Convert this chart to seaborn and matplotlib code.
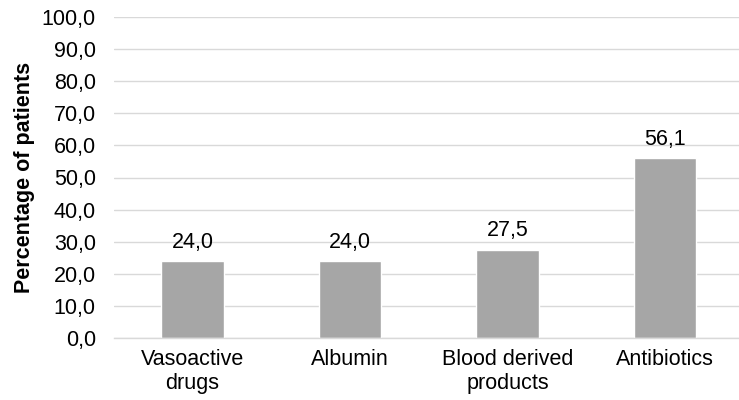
import matplotlib
matplotlib.use("Agg")
import matplotlib.pyplot as plt
import seaborn as sns
import pandas as pd
from matplotlib.ticker import FuncFormatter, MultipleLocator

categories = ["Vasoactive\ndrugs", "Albumin", "Blood derived\nproducts", "Antibiotics"]
percentages = [24.0, 24.0, 27.5, 56.1]

df = pd.DataFrame({"category": categories, "pct": percentages})

sns.set_theme(style="white")
plt.rcParams["font.family"] = ["Liberation Sans", "DejaVu Sans"]

fig = plt.figure(figsize=(7.39, 4.0), dpi=100)
ax = fig.add_axes([0.154, 0.155, 0.846, 0.8025])

sns.barplot(data=df, x="category", y="pct", color="#a6a6a6", saturation=1,
            width=0.395, ax=ax)

ax.set_ylim(0, 100)
ax.set_xlim(-0.5, 3.47)
ax.yaxis.set_major_locator(MultipleLocator(10))
ax.yaxis.set_major_formatter(FuncFormatter(lambda v, p: f"{v:.1f}".replace(".", ",")))
ax.grid(axis="y", color="#d9d9d9", linewidth=1)
ax.set_axisbelow(True)
for s in ["left", "right", "top"]:
    ax.spines[s].set_visible(False)
ax.spines["bottom"].set_color("#d9d9d9")
ax.spines["bottom"].set_linewidth(1)

ax.tick_params(axis="y", length=0, pad=13, labelsize=15.5, labelcolor="#000000")
ax.tick_params(axis="x", length=0, pad=8, labelsize=15.5, labelcolor="#000000")
for lbl in ax.get_xticklabels():
    lbl.set_linespacing(1.15)

ax.set_xlabel("")
ax.set_ylabel("Percentage of patients", fontsize=15.5, fontweight="bold", color="#000000", labelpad=5)

for i, v in enumerate(percentages):
    ax.annotate(f"{v:.1f}".replace(".", ","), (i, v), xytext=(0, 6), textcoords="offset points",
                ha="center", va="bottom", fontsize=15.5, color="#000000")

fig.savefig("out.png", dpi=100)
